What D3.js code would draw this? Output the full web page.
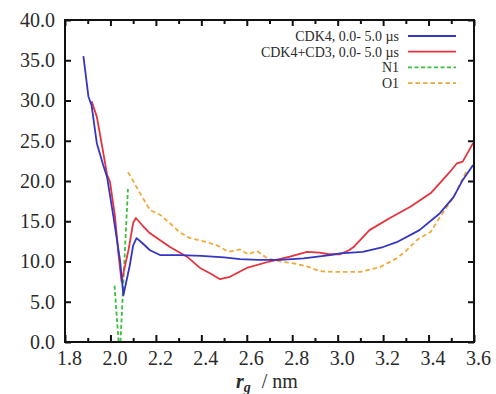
<!DOCTYPE html>
<html><head><meta charset="utf-8">
<script src="https://cdn.jsdelivr.net/npm/d3@7"></script>
<style>body{margin:0;background:#fff}svg{display:block}</style>
</head><body><svg id="c" width="496" height="394"></svg>
<script>
// ---- data ----
const xTicks = [1.8,2.0,2.2,2.4,2.6,2.8,3.0,3.2,3.4,3.6];
const yTicks = [0,5,10,15,20,25,30,35,40];
const seriesNames = ["CDK4, 0.0- 5.0 \u00b5s","CDK4+CD3, 0.0- 5.0 \u00b5s","N1","O1"];

const cdk4X = [1.881,1.903,1.917,1.94,1.968,1.985,2.013,2.042,2.057,2.085,2.1,2.115,2.14,2.174,2.218,2.306,2.4,2.5,2.57,2.65,2.746,2.85,2.966,3.01,3.11,3.2,3.26,3.36,3.45,3.51,3.55,3.596];
const cdk4Y = [35.5,30.5,29.4,24.7,22.0,20.5,15.6,10.2,5.8,9.5,12.0,12.9,12.3,11.4,10.8,10.8,10.7,10.5,10.3,10.2,10.2,10.4,10.8,11.0,11.2,11.8,12.4,13.9,16.0,18.0,20.1,22.0];

const cd3X = [1.917,1.94,1.961,1.985,1.998,2.02,2.035,2.049,2.08,2.1,2.112,2.14,2.174,2.262,2.337,2.394,2.44,2.482,2.526,2.6,2.7,2.79,2.865,2.92,2.96,3.01,3.05,3.07,3.14,3.23,3.32,3.41,3.49,3.525,3.55,3.596];
const cd3Y = [29.9,28.0,24.7,20.8,19.9,15.6,11.0,7.5,11.5,14.8,15.4,14.5,13.5,11.8,10.6,9.2,8.5,7.8,8.1,9.2,10.0,10.6,11.2,11.1,10.9,10.9,11.4,11.8,13.9,15.4,16.8,18.5,21.0,22.2,22.4,24.7];

const n1X = [2.018,2.036,2.044,2.077];
const n1Y = [7.0,0,0,19.0];

const o1X = [2.077,2.10,2.13,2.174,2.218,2.26,2.306,2.35,2.425,2.469,2.52,2.57,2.606,2.645,2.69,2.746,2.80,2.865,2.92,2.98,3.02,3.1,3.186,3.26,3.30,3.35,3.41,3.45,3.51,3.54,3.57];
const o1Y = [21.1,20.0,18.5,16.4,15.8,14.8,13.6,12.9,12.4,12.0,11.2,11.5,10.9,11.3,10.4,10.0,9.8,9.4,8.8,8.7,8.7,8.7,9.3,10.4,11.3,12.7,13.7,15.5,18.0,19.7,21.4];

const FONT = '"Liberation Serif","Times New Roman","DejaVu Serif",serif';

// ---- layout ----
const L=65,R=474,T=20,B=342;
const svg=d3.select("#c");
const x=d3.scaleLinear().domain([1.8,3.6]).range([L,R]);
const y=d3.scaleLinear().domain([0,40]).range([B,T]);

const series=[
 {name:seriesNames[0],xs:cdk4X,ys:cdk4Y,color:"#3535c4",dash:null},
 {name:seriesNames[1],xs:cd3X,ys:cd3Y,color:"#e5333d",dash:null},
 {name:seriesNames[2],xs:n1X,ys:n1Y,color:"#3cbf3c",dash:"4,2.5"},
 {name:seriesNames[3],xs:o1X,ys:o1Y,color:"#eeaa3a",dash:"4.5,3"}
];

const line=d3.line().x(d=>x(d[0])).y(d=>y(d[1]));
const plot=svg.append("g");
plot.append("defs").append("clipPath").attr("id","clip").append("rect").attr("x",L).attr("y",T).attr("width",R-L).attr("height",B-T);
[3,2,1,0].forEach(i=>{
  const s=series[i];
  plot.append("path").attr("clip-path","url(#clip)")
    .datum(s.xs.map((v,k)=>[v,s.ys[k]]))
    .attr("d",line).attr("fill","none").attr("stroke",s.color)
    .attr("stroke-width",1.8).attr("stroke-linejoin","round")
    .attr("stroke-dasharray",s.dash);
});

// ---- axes ----
const minorX=d3.range(1.9,3.6,0.2);
const ax=svg.append("g");
const gb=ax.append("g").attr("transform",`translate(0,${B})`)
 .call(d3.axisBottom(x).tickValues(xTicks).tickFormat(d3.format(".1f")).tickSizeInner(-7).tickSizeOuter(0).tickPadding(9));
gb.selectAll(".tick text").attr("dx",4);
ax.append("g").attr("transform",`translate(0,${B})`)
 .call(d3.axisBottom(x).tickValues(minorX).tickFormat("").tickSizeInner(-4).tickSizeOuter(0));
ax.append("g").attr("transform",`translate(0,${T})`)
 .call(d3.axisTop(x).tickValues(xTicks).tickFormat("").tickSizeInner(-6).tickSizeOuter(0));
ax.append("g").attr("transform",`translate(0,${T})`)
 .call(d3.axisTop(x).tickValues(minorX).tickFormat("").tickSizeInner(-4).tickSizeOuter(0));
ax.append("g").attr("transform",`translate(${L},0)`)
 .call(d3.axisLeft(y).tickValues(yTicks).tickFormat(d3.format(".1f")).tickSizeInner(-6).tickSizeOuter(0).tickPadding(10));
ax.append("g").attr("transform",`translate(${R},0)`)
 .call(d3.axisRight(y).tickValues(yTicks).tickFormat("").tickSizeInner(-6).tickSizeOuter(0));
ax.selectAll(".domain").remove();
ax.selectAll(".tick line").attr("stroke","#111").attr("stroke-width",2);
ax.selectAll(".tick text").attr("font-family",FONT).attr("font-size",20).attr("fill","#2a2a2a");
svg.append("rect").attr("x",L).attr("y",T).attr("width",R-L).attr("height",B-T)
 .attr("fill","none").attr("stroke","#111").attr("stroke-width",2);

// axis title
const xt=svg.append("text").attr("x",236).attr("y",388).attr("font-family",FONT).attr("font-size",20).attr("fill","#2a2a2a");
xt.append("tspan").text("r").attr("font-style","italic").attr("font-weight","bold");
xt.append("tspan").text("g").attr("font-style","italic").attr("font-weight","bold").attr("font-size",14).attr("dy",4);
xt.append("tspan").text(" / nm").attr("dy",-4).attr("dx",6);

// ---- legend ----
const leg=svg.append("g");
series.forEach((s,i)=>{
  const yy=36+i*15.7;
  leg.append("text").attr("x",399).attr("y",yy).attr("dy","0.35em").attr("text-anchor","end")
    .attr("font-family",FONT).attr("font-size",14).attr("fill","#2a2a2a").text(s.name);
  leg.append("line").attr("x1",408).attr("x2",456).attr("y1",yy).attr("y2",yy)
    .attr("stroke",s.color).attr("stroke-width",1.8).attr("stroke-dasharray",s.dash);
});
</script></body></html>
